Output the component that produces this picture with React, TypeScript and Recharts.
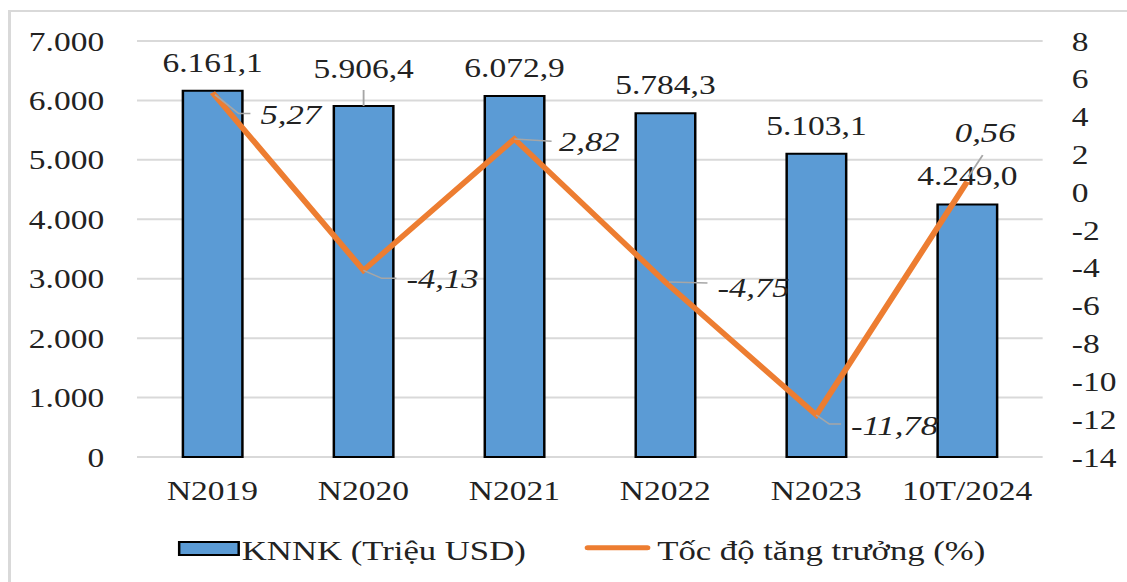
import React from "react";
import {
  ComposedChart,
  Bar,
  Line,
  XAxis,
  YAxis,
  CartesianGrid,
  LabelList,
} from "recharts";

// data
const categories = ["N2019", "N2020", "N2021", "N2022", "N2023", "10T/2024"];
const knnk = [6161.1, 5906.4, 6072.9, 5784.3, 5103.1, 4249.0];
const growth = [5.27, -4.13, 2.82, -4.75, -11.78, 0.56];
const leftTicks = [0, 1000, 2000, 3000, 4000, 5000, 6000, 7000];
const rightTicks = [-14, -12, -10, -8, -6, -4, -2, 0, 2, 4, 6, 8];

const barName = "KNNK (Triệu USD)";
const lineName = "Tốc độ tăng trưởng (%)";

const data = categories.map((name, i) => ({
  name,
  knnk: knnk[i],
  growth: growth[i],
}));

// the original picture is stretched horizontally, so draw narrow and scale
const STRETCH = 1.24;
const W = 1127 / STRETCH;
const H = 582;

const FONT = "'Liberation Serif', 'Times New Roman', serif";
const TEXT = "#222222";
const BLUE = "#5B9BD5";
const ORANGE = "#ED7D31";
const LEADER = "#A6A6A6";

const thousands = (n: number) =>
  String(n).replace(/\B(?=(\d{3})+(?!\d))/g, ".");

const fmtBar = (v: number) => {
  const [a, b] = v.toFixed(1).split(".");
  return thousands(Number(a)) + "," + b;
};

const fmtPct = (v: number) => v.toFixed(2).replace(".", ",");

// label placement, relative to the point (chart units)
const lineLabelPos: Record<number, { leader: number[][]; dx: number; dy: number }> = {
  0: { leader: [[2, 2], [21, 21], [30.6, 21]], dx: 38.7, dy: 31 },
  1: { leader: [[0, 0], [14.8, 8], [26.6, 8]], dx: 34.7, dy: 18 },
  2: { leader: [[0, 0], [30, 2.3]], dx: 36, dy: 12 },
  3: { leader: [[3, 0], [34, 1]], dx: 42, dy: 15 },
  4: { leader: [[0, 0], [10.5, 9], [20, 9]], dx: 28, dy: 20 },
  5: { leader: [[1, -5], [12.5, -26.6]], dx: -10, dy: -39.6 },
};

const BarLabel = (props: any) => {
  const { x, y, width, value, index } = props;
  const cx = x + width / 2;
  const off = index === 1 ? 28 : 19;
  return (
    <g>
      {index === 1 && (
        <line x1={cx} y1={y - 16} x2={cx} y2={y} stroke={LEADER} strokeWidth={1.5} />
      )}
      <text
        x={cx}
        y={y - off}
        textAnchor="middle"
        fontFamily={FONT}
        fontSize={27}
        fill={TEXT}
      >
        {fmtBar(value)}
      </text>
    </g>
  );
};

const LineLabel = (props: any) => {
  const { x, y, value, index } = props;
  const p = lineLabelPos[index];
  if (!p) return null;
  const pts = p.leader.map(([a, b]) => `${x + a},${y + b}`).join(" ");
  return (
    <g>
      <polyline points={pts} fill="none" stroke={LEADER} strokeWidth={1.5} />
      <text
        x={x + p.dx}
        y={y + p.dy}
        fontFamily={FONT}
        fontStyle="italic"
        fontSize={28}
        fill={TEXT}
      >
        {fmtPct(value)}
      </text>
    </g>
  );
};

export default function App() {
  return (
    <div
      style={{
        position: "absolute",
        left: 0,
        top: 0,
        width: 1127,
        height: H,
        overflow: "hidden",
        background: "#fff",
      }}
    >
      {/* outer chart frame */}
      <div
        style={{
          position: "absolute",
          left: 8,
          top: 10,
          width: 1300,
          height: 800,
          borderTop: "2px solid #D9D9D9",
          borderLeft: "3px solid #D9D9D9",
        }}
      />
      <div
        style={{
          position: "absolute",
          left: 0,
          top: 0,
          width: W,
          height: H,
          transform: `scaleX(${STRETCH})`,
          transformOrigin: "0 0",
        }}
      >
        <ComposedChart
          width={W}
          height={H}
          data={data}
          margin={{ top: 41, right: 0, left: 0, bottom: 75 }}
        >
          <CartesianGrid
            yAxisId="left"
            vertical={false}
            stroke="#D9D9D9"
            strokeWidth={2}
          />
          <XAxis
            dataKey="name"
            axisLine={false}
            tickLine={false}
            tickSize={0}
            tickMargin={24}
            height={50}
            interval={0}
            tick={{ fontSize: 27, fontFamily: FONT, fill: TEXT }}
          />
          <YAxis
            yAxisId="left"
            domain={[0, 7000]}
            ticks={leftTicks}
            interval={0}
            width={110.5}
            axisLine={false}
            tickLine={false}
            tickSize={0}
            tickMargin={26.5}
            tickFormatter={(v) => thousands(v)}
            tick={{ fontSize: 27, fontFamily: FONT, fill: TEXT }}
          />
          <YAxis
            yAxisId="right"
            orientation="right"
            domain={[-14, 8]}
            ticks={rightTicks}
            interval={0}
            width={68}
            axisLine={false}
            tickLine={false}
            tickSize={0}
            tickMargin={23.5}
            tick={{ fontSize: 27, fontFamily: FONT, fill: TEXT }}
          />
          <Bar
            yAxisId="left"
            dataKey="knnk"
            name={barName}
            fill={BLUE}
            stroke="#000"
            strokeWidth={2}
            barSize={48}
            isAnimationActive={false}
          >
            <LabelList dataKey="knnk" content={<BarLabel />} />
          </Bar>
          <Line
            yAxisId="right"
            dataKey="growth"
            name={lineName}
            type="linear"
            stroke={ORANGE}
            strokeWidth={5}
            dot={false}
            activeDot={false}
            isAnimationActive={false}
          >
            <LabelList dataKey="growth" content={<LineLabel />} />
          </Line>
        </ComposedChart>

        {/* legend */}
        <div
          style={{
            position: "absolute",
            left: 0,
            top: 530,
            width: W,
            height: 40,
            fontFamily: FONT,
            fontSize: 28,
            color: TEXT,
          }}
        >
          <svg width={W} height={40} style={{ position: "absolute", left: 0, top: 0 }}>
            <rect x={144.5} y={12} width={48} height={13} fill={BLUE} stroke="#000" strokeWidth={2} />
            <text x={195} y={30} fontFamily={FONT} fontSize={28} fill={TEXT}>
              {barName}
            </text>
            <line x1={474} y1={17.7} x2={522} y2={17.7} stroke={ORANGE} strokeWidth={5} strokeLinecap="round" />
            <text x={530} y={30} fontFamily={FONT} fontSize={28} fill={TEXT}>
              {lineName}
            </text>
          </svg>
        </div>
      </div>
    </div>
  );
}
